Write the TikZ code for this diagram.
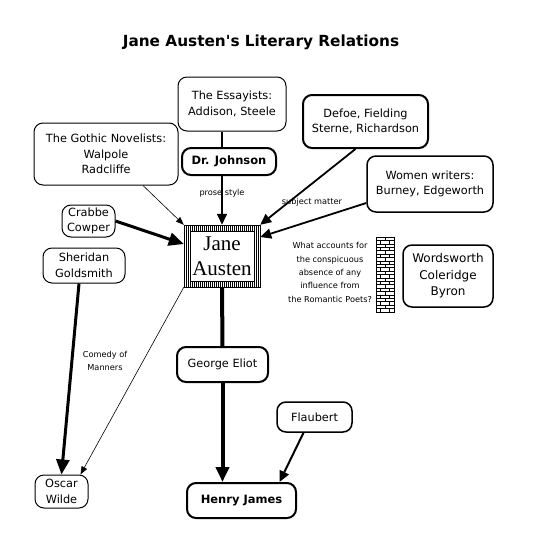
\documentclass[tikz,border=0pt]{standalone}
\usepackage{fontspec}
\setmainfont{DejaVu Sans}
\newfontfamily\janefont{Liberation Serif}
\usetikzlibrary{arrows.meta}
\begin{document}
\begin{tikzpicture}[x=1pt,y=-1pt,
  box/.style={draw, rounded corners=9pt, align=center, inner sep=0pt,
    font=\fontsize{11.3}{15.5}\selectfont, line width=1pt},
  midbox/.style={box, line width=1.5pt},
  thickbox/.style={box, line width=2pt},
  boldtext/.style={font=\bfseries\fontsize{11.5}{14}\selectfont},
  lbl/.style={font=\fontsize{8.2}{13.3}\selectfont, align=center, inner sep=0pt},
  bigtip/.style={-{Triangle[length=15pt,width=13pt]}},
  medtip/.style={-{Triangle[length=11pt,width=10pt]}},
  smalltip/.style={-{Triangle[length=8pt,width=6pt]}}
]
\useasboundingbox[fill=white] (0,0) rectangle (537,550);

% title
\node[font=\bfseries\fontsize{15.3}{17}\selectfont] (title) at (261,42) {Jane Austen\textquotesingle s Literary Relations};

% boxes
\node[box, minimum width=108pt, minimum height=54pt] (essay) at (232,104) {The Essayists:\\Addison, Steele};
\node[thickbox, boldtext, minimum width=94pt, minimum height=27pt] (john) at (229,161.5) {Dr. Johnson};
\node[thickbox, minimum width=125pt, minimum height=53pt] (defoe) at (365.5,121.5) {Defoe, Fielding\\Sterne, Richardson};
\node[midbox, minimum width=126pt, minimum height=56pt] (women) at (430,184) {Women writers:\\Burney, Edgeworth};
\node[box, minimum width=144pt, minimum height=62pt] (gothic) at (106,154) {The Gothic Novelists:\\Walpole\\Radcliffe};
\node[box, minimum width=53pt, minimum height=32pt] (crabbe) at (88.5,221) {Crabbe\\Cowper};
\node[box, minimum width=82pt, minimum height=35pt] (sher) at (84,265.5) {Sheridan\\Goldsmith};
\node[box, minimum width=53pt, minimum height=33pt] (oscar) at (61.5,491.5) {Oscar\\Wilde};
\node[thickbox, minimum width=91pt, minimum height=35pt] (george) at (222.5,364.5) {George Eliot};
\node[thickbox, boldtext, minimum width=109pt, minimum height=35pt] (henry) at (241.5,500.5) {Henry James};
\node[midbox, minimum width=75pt, minimum height=30pt] (flaub) at (314.5,417) {Flaubert};
\node[midbox, minimum width=90pt, minimum height=62pt, font=\fontsize{12}{16.5}\selectfont] (words) at (448,276) {Wordsworth\\Coleridge\\Byron};

% Jane Austen
\node[minimum width=76pt, minimum height=62pt, inner sep=0pt, align=center,
  font=\janefont\fontsize{21}{25}\selectfont] (ja) at (222,256) {Jane\\Austen};
\begin{scope}[line width=0.7pt]
  \foreach \x in {184,186,...,260} {
    \draw (\x,225) -- (\x,231);
    \draw (\x,281) -- (\x,287);
  }
  \foreach \x in {184,186,188,190,254,256,258,260}
    \draw (\x,225) -- (\x,287);
  \draw (184,225) rectangle (260,287);
  \draw (190,231) rectangle (254,281);
\end{scope}

% brick wall
\node[draw, line width=0.8pt, minimum width=18pt, minimum height=75pt, inner sep=0pt] (wall) at (385,274.5) {};
\begin{scope}[line width=0.6pt]
  \foreach \i in {0,...,21} {
    \pgfmathsetmacro\ya{237+\i*3.409}
    \pgfmathsetmacro\yb{\ya+3.409}
    \draw (376,\yb) -- (394,\yb);
    \ifodd\i\relax
      \draw (380.5,\ya) -- (380.5,\yb);
      \draw (389.5,\ya) -- (389.5,\yb);
    \else
      \draw (385,\ya) -- (385,\yb);
    \fi
  }
\end{scope}

% labels
\node[lbl] (prose) at (222,193) {prose style};
\node[lbl] (subj) at (312,202) {subject matter};
\node[lbl] (comedy) at (105,361) {Comedy of\\Manners};
\node[lbl] (quest) at (330,272.5) {What accounts for\\the conspicuous\\absence of any\\influence from\\the Romantic Poets?};

% connectors
\draw[line width=2.5pt] (essay.south -| ja.north) -- (john.north -| ja.north);
\draw[line width=1.5pt, medtip] (john.south -| ja.north) -- (ja.north);
\draw[line width=1.8pt, medtip] ([xshift=-10pt]defoe.south) -- (ja.north east);
\draw[line width=1.8pt, medtip] ([yshift=-19pt]women.west) -- ([yshift=19pt]ja.east);
\draw[line width=0.6pt, smalltip] ([xshift=37pt]gothic.south) -- (ja.north west);
\draw[line width=3pt, bigtip] (crabbe.east) -- ([yshift=12pt]ja.west);
\draw[line width=3pt, bigtip] ([xshift=-5pt]sher.south) -- (oscar.north);
\draw[line width=0.6pt, smalltip] (ja.south west) -- ([xshift=19pt]oscar.north);
\draw[line width=4pt] (ja.south) -- (george.north);
\draw[line width=4pt, bigtip] (george.south) -- (henry.north -| george.south);
\draw[line width=2pt, medtip] ([xshift=-11pt]flaub.south) -- ([xshift=38pt]henry.north);
\end{tikzpicture}
\end{document}
